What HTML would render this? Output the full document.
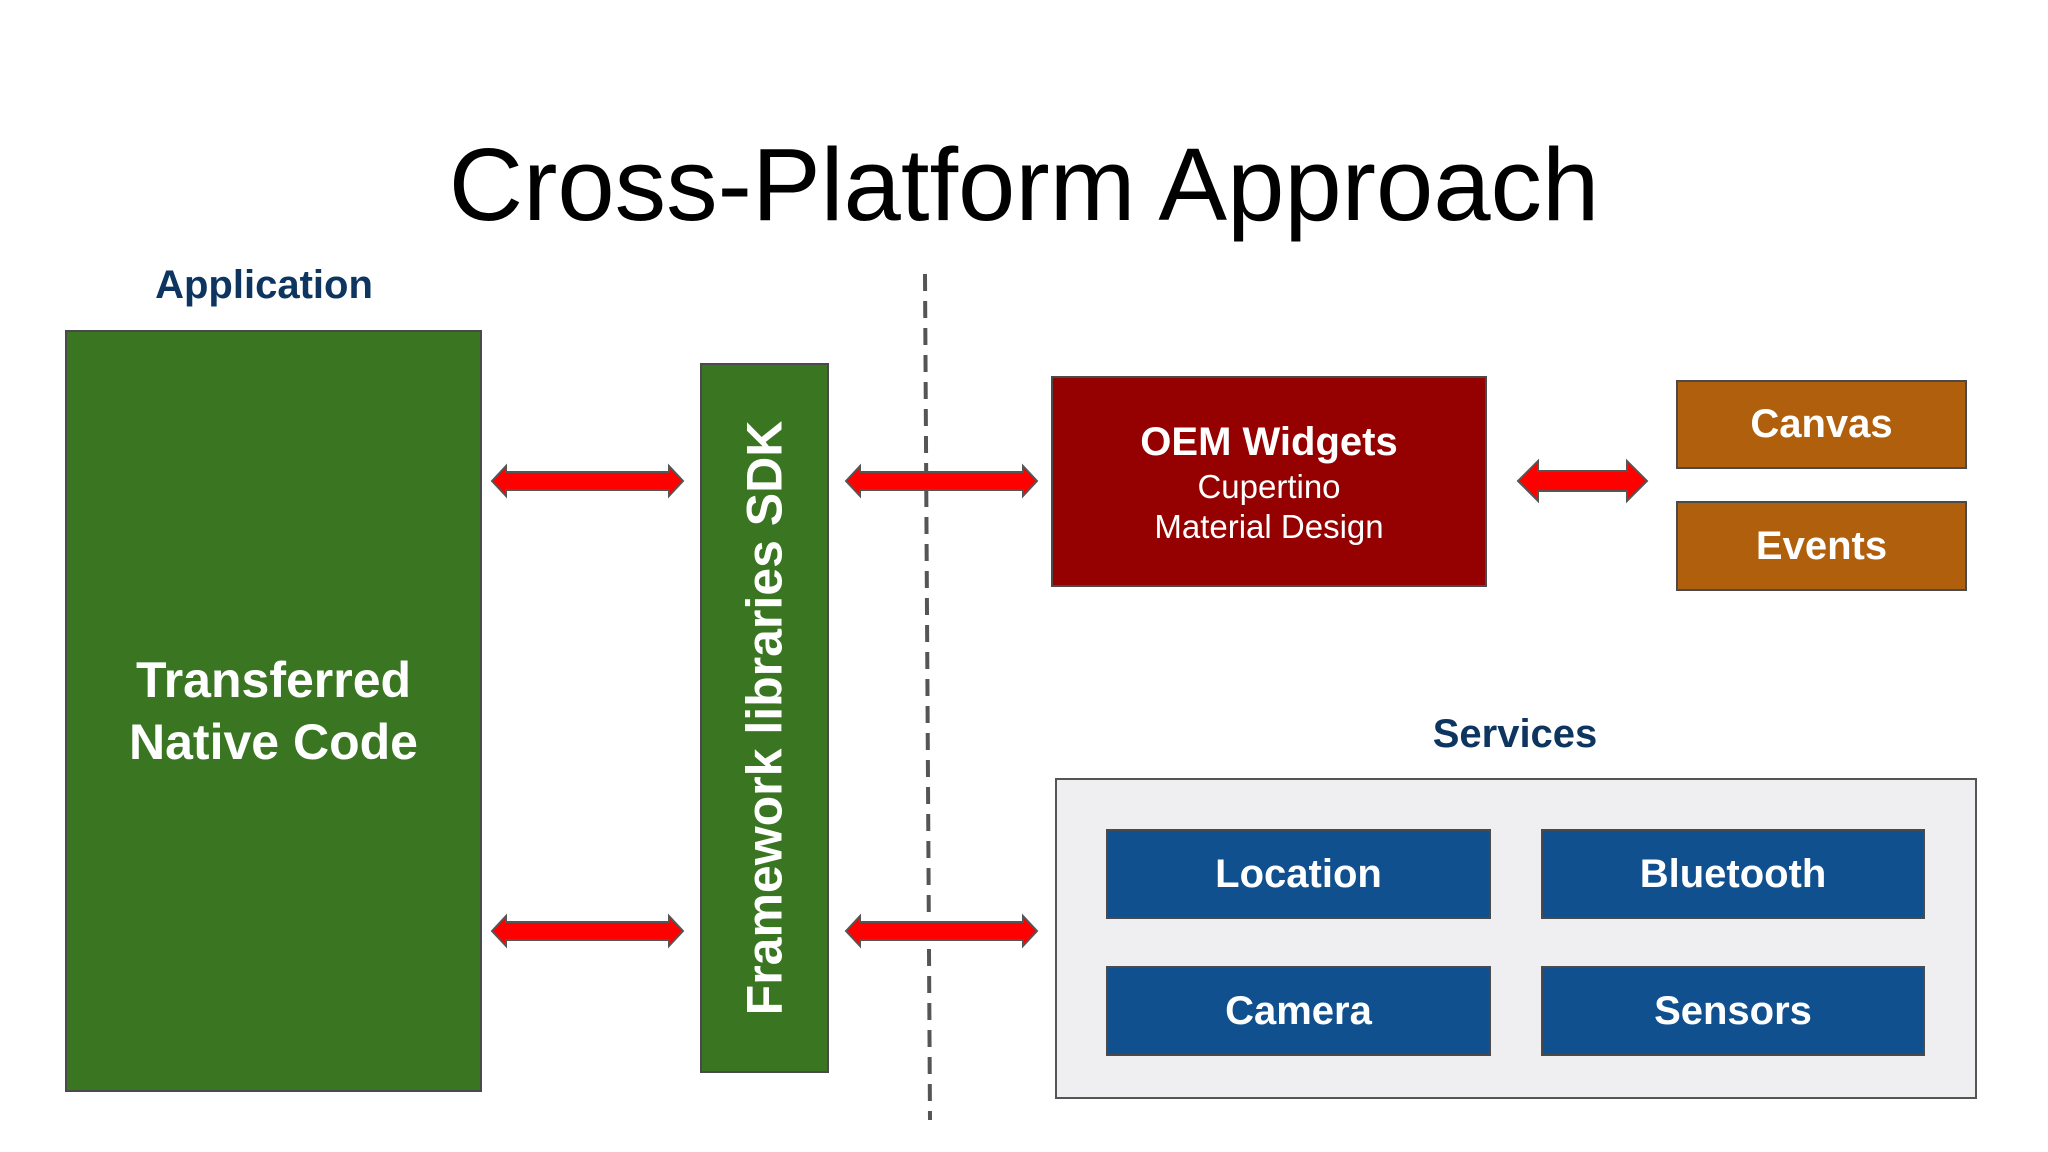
<!DOCTYPE html>
<html><head><meta charset="utf-8"><style>
html,body{margin:0;padding:0;background:#fff;}
body{width:2048px;height:1152px;position:relative;overflow:hidden;font-family:"Liberation Sans",Arial,sans-serif;}
.a{position:absolute;box-sizing:border-box;}
.c{display:flex;align-items:center;justify-content:center;text-align:center;color:#fff;font-weight:bold;}
</style></head><body>
<div class="a" style="left:0;top:120px;width:2048px;text-align:center;font-size:103px;color:#000;line-height:130px;">Cross-Platform Approach</div>
<div class="a" style="left:139px;top:263px;width:250px;text-align:center;font-size:40px;font-weight:bold;color:#0d3560;">Application</div>
<div class="a c" style="left:65px;top:330px;width:417px;height:762px;background:#3a7622;border:2px solid #4a4a4a;font-size:50px;line-height:62px;">Transferred<br>Native Code</div>
<div class="a" style="left:700px;top:363px;width:129px;height:710px;background:#3a7622;border:2px solid #4a4a4a;"></div>
<div class="a c" style="left:764px;top:718px;width:0;height:0;overflow:visible;">
 <div style="transform:rotate(-90deg);white-space:nowrap;font-size:50px;color:#fff;font-weight:bold;">Framework libraries SDK</div>
</div>
<svg class="a" style="left:0;top:0" width="2048" height="1152">
 <line x1="925" y1="274" x2="930" y2="1120" stroke="#555" stroke-width="4" stroke-dasharray="17,10"/>
 <g fill="#ff0000" stroke="#555" stroke-width="2">
  <polygon points="492,481 506,466 506,472 669,472 669,466 683,481 669,496 669,490 506,490 506,496"/>
  <polygon points="492,931 506,916 506,922 669,922 669,916 683,931 669,946 669,940 506,940 506,946"/>
  <polygon points="846,481 860,466 860,472 1023,472 1023,466 1037,481 1023,496 1023,490 860,490 860,496"/>
  <polygon points="846,931 860,916 860,922 1023,922 1023,916 1037,931 1023,946 1023,940 860,940 860,946"/>
  <polygon points="1518,481 1538,461 1538,471 1627,471 1627,461 1647,481 1627,501 1627,491 1538,491 1538,501"/>
 </g>
</svg>
<div class="a c" style="left:1051px;top:376px;width:436px;height:211px;background:#950000;border:2px solid #4a4a4a;flex-direction:column;">
 <div style="font-size:40px;line-height:50px;">OEM Widgets</div>
 <div style="font-size:33px;font-weight:normal;line-height:40px;">Cupertino</div>
 <div style="font-size:33px;font-weight:normal;line-height:40px;">Material Design</div>
</div>
<div class="a c" style="left:1676px;top:380px;width:291px;height:89px;background:#b05f0c;border:2px solid #4a4a4a;font-size:40px;">Canvas</div>
<div class="a c" style="left:1676px;top:501px;width:291px;height:90px;background:#b05f0c;border:2px solid #4a4a4a;font-size:40px;">Events</div>
<div class="a" style="left:1365px;top:712px;width:300px;text-align:center;font-size:40px;font-weight:bold;color:#0d3560;">Services</div>
<div class="a" style="left:1055px;top:778px;width:922px;height:321px;background:#efeef0;border:2px solid #555;"></div>
<div class="a c" style="left:1106px;top:829px;width:385px;height:90px;background:#10508f;border:2px solid #4a4a4a;font-size:40px;">Location</div>
<div class="a c" style="left:1541px;top:829px;width:384px;height:90px;background:#10508f;border:2px solid #4a4a4a;font-size:40px;">Bluetooth</div>
<div class="a c" style="left:1106px;top:966px;width:385px;height:90px;background:#10508f;border:2px solid #4a4a4a;font-size:40px;">Camera</div>
<div class="a c" style="left:1541px;top:966px;width:384px;height:90px;background:#10508f;border:2px solid #4a4a4a;font-size:40px;">Sensors</div>
</body></html>
